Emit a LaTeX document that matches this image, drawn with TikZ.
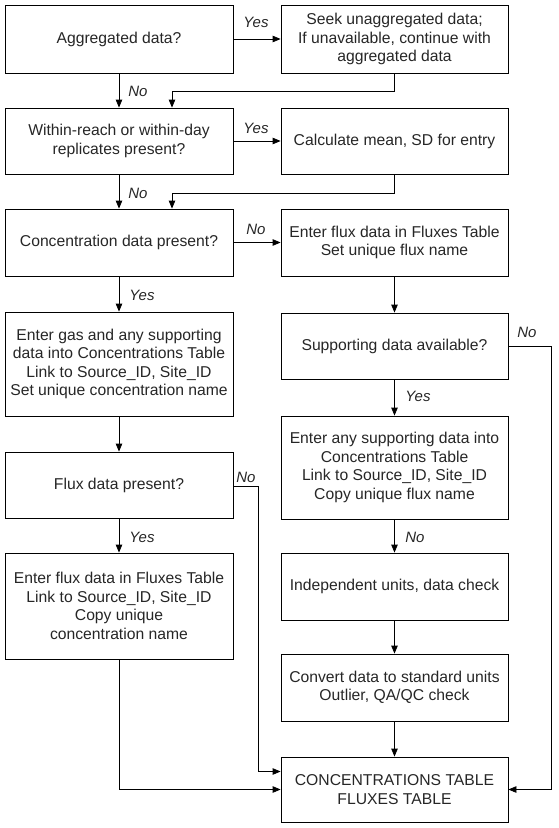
\documentclass[tikz,border=0pt]{standalone}
\usepackage{fontspec}
\setmainfont{Liberation Sans}
\usetikzlibrary{arrows.meta}
\begin{document}
\begin{tikzpicture}[x=1pt,y=-1pt,
  box/.style={draw, line width=0.8pt, align=center, inner sep=2pt, font=\fontsize{15.7}{18.5}\selectfont, text=black!85},
  lbox/.style={box, minimum width=228pt},
  rbox/.style={box, minimum width=227pt},
  lab/.style={font=\fontsize{15}{18}\selectfont\itshape, inner sep=0pt, text=black!85},
  arr/.style={-{Triangle[length=8pt,width=6.5pt]}, line width=0.8pt},
  ln/.style={line width=0.8pt}]
\useasboundingbox (0,0) rectangle (559,828);

% left column
\node[lbox, minimum height=68pt] (b1) at (119,39) {Aggregated data?};
\node[lbox, minimum height=66pt] (b2) at (119,141) {Within-reach or within-day\\replicates present?};
\node[lbox, minimum height=67pt] (b3) at (119,242.5) {Concentration data present?};
\node[lbox, minimum height=104pt] (b4) at (119,364) {Enter gas and any supporting\\data into Concentrations Table\\Link to Source\_ID, Site\_ID\\Set unique concentration name};
\node[lbox, minimum height=66pt] (b5) at (119,485) {Flux data present?};
\node[lbox, minimum height=106pt] (b6) at (119,606) {Enter flux data in Fluxes Table\\Link to Source\_ID, Site\_ID\\Copy unique\\concentration name};

% right column
\node[rbox, minimum height=68pt] (r1) at (394.5,39) {Seek unaggregated data;\\If unavailable, continue with\\aggregated data};
\node[rbox, minimum height=66pt] (r2) at (394.5,141) {Calculate mean, SD for entry};
\node[rbox, minimum height=67pt] (r3) at (394.5,242.5) {Enter flux data in Fluxes Table\\Set unique flux name};
\node[rbox, minimum height=66pt] (r4) at (394.5,346) {Supporting data available?};
\node[rbox, minimum height=103pt] (r5) at (394.5,467.5) {Enter any supporting data into\\Concentrations Table\\Link to Source\_ID, Site\_ID\\Copy unique flux name};
\node[rbox, minimum height=67pt] (r6) at (394.5,586.5) {Independent units, data check};
\node[rbox, minimum height=67pt] (r7) at (394.5,687.5) {Convert data to standard units\\Outlier, QA/QC check};
\node[rbox, minimum height=65pt] (r8) at (394.5,789.5) {CONCENTRATIONS TABLE\\FLUXES TABLE};

% junction coordinates
\coordinate (j1) at (172,91);
\coordinate (j2) at (172,193);
\coordinate (jr) at (551,346);
\coordinate (jm) at (258,486);

% connectors
\draw[arr] (b1.east) -- (r1.west);
\draw[arr] (b1.south) -- (b2.north);
\draw[ln] (r1.south) |- (j1);
\draw[arr] (j1) -- (j1 |- b2.north);

\draw[arr] (b2.east) -- (r2.west);
\draw[arr] (b2.south) -- (b3.north);
\draw[ln] (r2.south) |- (j2);
\draw[arr] (j2) -- (j2 |- b3.north);

\draw[arr] (b3.east) -- (r3.west);
\draw[arr] (b3.south) -- (b4.north);
\draw[arr] (r3.south) -- (r4.north);
\draw[arr] (r4.south) -- (r5.north);
\draw[ln] (r4.east) -- (jr);
\draw[arr] (jr) |- (r8.east);

\draw[arr] (b4.south) -- (b5.north);
\draw[arr] (b5.south) -- (b6.north);
\draw[ln] (b5.east |- jm) -- (jm);
\draw[arr] (jm) |- ([yshift=18pt]r8.west);
\draw[arr] (b6.south) |- (r8.west);

\draw[arr] (r5.south) -- (r6.north);
\draw[arr] (r6.south) -- (r7.north);
\draw[arr] (r7.south) -- (r8.north);

% labels
\node[lab] (l1) at (256,22) {Yes};
\node[lab] (l2) at (138,91) {No};
\node[lab] (l3) at (256,128) {Yes};
\node[lab] (l4) at (138,193) {No};
\node[lab] (l5) at (256,229) {No};
\node[lab] (l6) at (142,295) {Yes};
\node[lab] (l7) at (527,332) {No};
\node[lab] (l8) at (418,396) {Yes};
\node[lab] (l9) at (246,477) {No};
\node[lab] (l10) at (142,537) {Yes};
\node[lab] (l11) at (415,537) {No};
\end{tikzpicture}
\end{document}
